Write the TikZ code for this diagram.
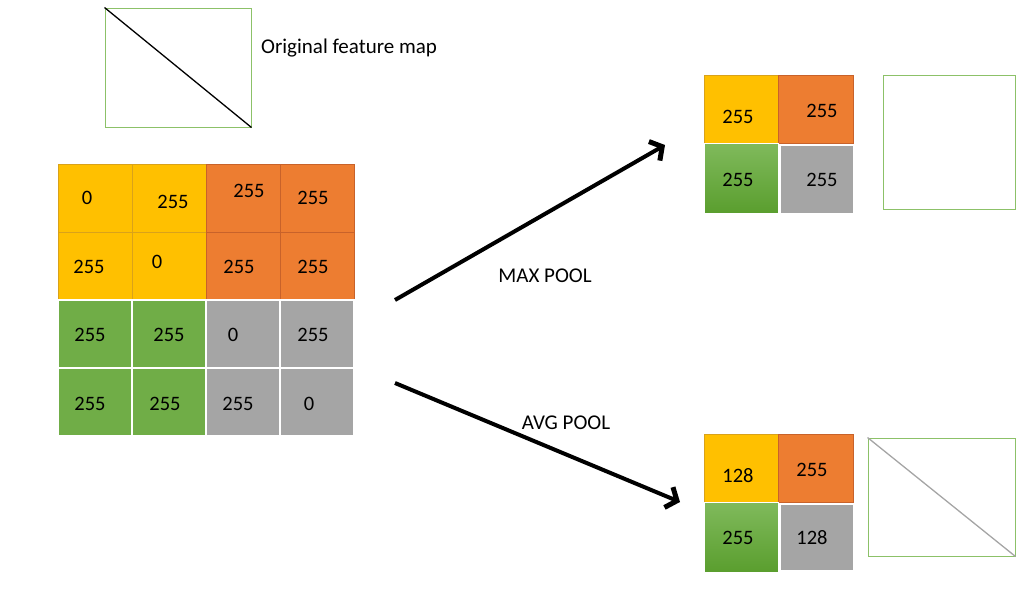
\documentclass[tikz,border=0pt]{standalone}
\usepackage{fontspec}
\setmainfont{Carlito}
\usetikzlibrary{arrows.meta}

\definecolor{cellyellow}{HTML}{FFC000}
\definecolor{yellowedge}{HTML}{D9A21A}
\definecolor{cellorange}{HTML}{ED7D31}
\definecolor{orangeedge}{HTML}{C8622A}
\definecolor{cellgreen}{HTML}{70AD47}
\definecolor{greentop}{HTML}{80BA5C}
\definecolor{greenbot}{HTML}{5A9E2E}
\definecolor{cellgray}{HTML}{A5A5A5}
\definecolor{boxedge}{HTML}{8CC168}

\tikzset{
  cell/.style={rectangle, inner sep=0pt, minimum width=74pt, minimum height=68pt, line width=0.8pt},
  ycell/.style={cell, fill=cellyellow, draw=yellowedge},
  ocell/.style={cell, fill=cellorange, draw=orangeedge},
  gcell/.style={cell, fill=cellgreen, draw=white, line width=2pt},
  scell/.style={cell, fill=cellgray, draw=white, line width=2pt},
  shadedcell/.style={cell, top color=greentop, bottom color=greenbot, draw=white, line width=1pt},
  num/.style={inner sep=0pt, font=\fontsize{20.5}{24}\selectfont},
  mapbox/.style={rectangle, draw=boxedge, line width=1pt, inner sep=0pt},
  caption/.style={inner sep=0pt, font=\fontsize{21}{25}\selectfont},
  poolarrow/.style={line width=4pt, -{Straight Barb[length=9pt, width=22pt, line width=5pt]}}
}

\begin{document}
\begin{tikzpicture}[x=1pt, y=-1pt]
    \useasboundingbox (0,0) rectangle (1024,595);

    % Original feature map
    \node[mapbox, minimum width=146pt, minimum height=119pt] (orig) at (178,67.5) {};
    \draw[line width=1.3pt] (orig.north west) -- (orig.south east);
    \node[caption, anchor=west] (origtext) at (261,48) {Original feature map};

    % 4x4 input grid
    \node[ycell] (c11) at (95,198) {};
    \node[ycell] (c12) at (169,198) {};
    \node[ocell] (c13) at (243,198) {};
    \node[ocell] (c14) at (317,198) {};
    \node[ycell] (c21) at (95,266) {};
    \node[ycell] (c22) at (169,266) {};
    \node[ocell] (c23) at (243,266) {};
    \node[ocell] (c24) at (317,266) {};
    \node[gcell] (c31) at (95,334) {};
    \node[gcell] (c32) at (169,334) {};
    \node[scell] (c33) at (243,334) {};
    \node[scell] (c34) at (317,334) {};
    \node[gcell] (c41) at (95,402) {};
    \node[gcell] (c42) at (169,402) {};
    \node[scell] (c43) at (243,402) {};
    \node[scell] (c44) at (317,402) {};

    \node[num] (n11) at (87,198) {0};
    \node[num] (n12) at (173,202) {255};
    \node[num] (n13) at (249,191) {255};
    \node[num] (n14) at (313,198) {255};
    \node[num] (n21) at (89,267) {255};
    \node[num] (n22) at (157,262) {0};
    \node[num] (n23) at (239,267) {255};
    \node[num] (n24) at (313,267) {255};
    \node[num] (n31) at (90,335) {255};
    \node[num] (n32) at (169,335) {255};
    \node[num] (n33) at (233,335) {0};
    \node[num] (n34) at (313,335) {255};
    \node[num] (n41) at (90,404) {255};
    \node[num] (n42) at (165,404) {255};
    \node[num] (n43) at (238,404) {255};
    \node[num] (n44) at (309,404) {0};

    % Max pool output
    \node[ycell] (m11) at (741,109) {};
    \node[ocell, minimum width=75pt] (m12) at (815.5,109) {};
    \node[shadedcell, minimum height=70pt] (m21) at (741,178) {};
    \node[scell, minimum width=74pt, minimum height=69pt] (m22) at (816.5,179) {};
    \node[num] (mn11) at (738,117) {255};
    \node[num] (mn12) at (822,111) {255};
    \node[num] (mn21) at (738,180) {255};
    \node[num] (mn22) at (822,180) {255};
    \node[mapbox, minimum width=132pt, minimum height=134pt] (maxmap) at (949,142) {};

    % Avg pool output
    \node[ycell] (a11) at (741,468) {};
    \node[ocell, minimum width=75pt] (a12) at (815.5,468) {};
    \node[shadedcell, minimum height=70pt] (a21) at (741,537) {};
    \node[scell, minimum width=74pt, minimum height=67pt] (a22) at (816.5,537) {};
    \node[num] (an11) at (738,476) {128};
    \node[num] (an12) at (812,470) {255};
    \node[num] (an21) at (738,538) {255};
    \node[num] (an22) at (812,538) {128};
    \node[mapbox, minimum width=147pt, minimum height=118pt] (avgmap) at (941.5,497) {};
    \draw[line width=1.3pt, cellgray] (avgmap.north west) -- (avgmap.south east);

    % Arrows
    \coordinate (maxstart) at (395,300);
    \coordinate (maxend) at (665,145);
    \coordinate (avgstart) at (395,383);
    \coordinate (avgend) at (680,502);
    \draw[poolarrow] (maxstart) -- (maxend);
    \draw[poolarrow] (avgstart) -- (avgend);
    \node[caption] (maxlabel) at (545,276) {MAX POOL};
    \node[caption] (avglabel) at (566,423) {AVG POOL};
\end{tikzpicture}
\end{document}
